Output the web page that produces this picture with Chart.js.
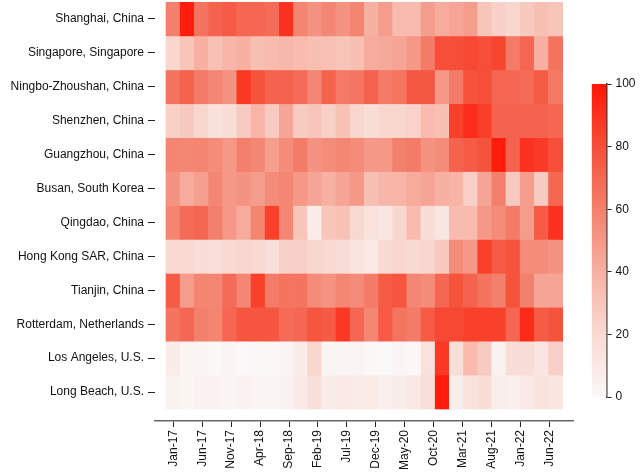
<!DOCTYPE html>
<html>
<head>
<meta charset="utf-8">
<script src="https://cdn.jsdelivr.net/npm/chart.js@4.4.0/dist/chart.umd.min.js"></script>
<style>
  html, body { margin: 0; padding: 0; background: #fff; }
  #wrap { position: relative; width: 643px; height: 472px; }
  #heat { position: absolute; left: 0; top: 0; }
  #bar { position: absolute; left: 580px; top: 0; }
</style>
</head>
<body>
<div id="wrap">
  <canvas id="heat" width="643" height="472"></canvas>
  <canvas id="bar" width="63" height="472"></canvas>
</div>
<script>
// Port names, top to bottom
const ports = [
  'Shanghai, China', 'Singapore, Singapore', 'Ningbo-Zhoushan, China', 'Shenzhen, China',
  'Guangzhou, China', 'Busan, South Korea', 'Qingdao, China', 'Hong Kong SAR, China',
  'Tianjin, China', 'Rotterdam, Netherlands', 'Los Angeles, U.S.', 'Long Beach, U.S.'
];

// x axis labels and their month offset from Jan-17
const tickLabels = ['Jan-17', 'Jun-17', 'Nov-17', 'Apr-18', 'Sep-18', 'Feb-19', 'Jul-19',
  'Dec-19', 'May-20', 'Oct-20', 'Mar-21', 'Aug-21', 'Jan-22', 'Jun-22'];
const tickMonths = [0, 5, 10, 15, 20, 25, 30, 35, 40, 45, 50, 55, 60, 65];

// Index values per port (0-100), one per column
const shanghai   = [60, 97, 65, 72, 75, 70, 70, 68, 90, 58, 52, 57, 52, 58, 40, 48, 35, 35, 48, 42, 45, 48, 30, 25, 22, 28, 33, 30];
const singapore  = [22, 30, 40, 32, 37, 40, 33, 35, 36, 35, 33, 32, 30, 33, 42, 43, 45, 50, 62, 80, 80, 82, 80, 83, 62, 70, 40, 65];
const ningbo     = [65, 72, 62, 57, 52, 88, 78, 72, 72, 68, 57, 72, 62, 64, 72, 62, 65, 76, 76, 50, 62, 78, 80, 70, 70, 68, 75, 63];
const shenzhen   = [25, 28, 22, 15, 18, 27, 38, 27, 45, 27, 30, 25, 32, 22, 18, 22, 22, 24, 35, 33, 85, 92, 86, 72, 72, 72, 72, 70];
const guangzhou  = [58, 57, 58, 55, 50, 60, 57, 47, 55, 62, 52, 55, 57, 55, 50, 50, 60, 62, 52, 55, 72, 75, 78, 98, 72, 90, 87, 80];
const busan      = [52, 42, 47, 57, 50, 52, 48, 55, 57, 50, 45, 40, 45, 50, 33, 37, 38, 42, 45, 40, 38, 25, 45, 60, 28, 48, 27, 70];
const qingdao    = [58, 68, 70, 60, 50, 42, 58, 85, 57, 30, 8, 30, 32, 20, 15, 12, 22, 35, 18, 12, 35, 35, 50, 55, 62, 48, 75, 90];
const hongKong   = [20, 20, 18, 17, 20, 22, 20, 17, 25, 25, 22, 20, 18, 13, 10, 20, 22, 20, 22, 28, 55, 50, 85, 75, 78, 55, 55, 52];
const tianjin    = [75, 48, 58, 57, 68, 57, 85, 62, 65, 65, 55, 52, 57, 55, 62, 75, 77, 57, 55, 70, 78, 72, 65, 60, 78, 60, 45, 45];
const rotterdam  = [65, 70, 60, 58, 70, 77, 77, 77, 68, 70, 77, 75, 88, 70, 57, 75, 65, 62, 75, 82, 82, 85, 85, 85, 70, 93, 75, 78];
const losAngeles = [8, 3, 3, 1, 2, 0, 1, 1, 2, 8, 22, 3, 2, 2, 1, 0, 2, 1, 15, 88, 18, 35, 27, 4, 18, 18, 12, 25];
const longBeach  = [5, 3, 4, 4, 3, 4, 2, 2, 4, 10, 17, 8, 10, 9, 9, 6, 8, 11, 17, 98, 7, 15, 18, 7, 5, 10, 14, 12];

const grid = [shanghai, singapore, ningbo, shenzhen, guangzhou, busan,
  qingdao, hongKong, tianjin, rotterdam, losAngeles, longBeach];

// white -> red colour scale, piecewise stops
const colorStops = [
  [0.0, [250, 248, 248]],
  [0.2, [249, 218, 211]],
  [0.4, [247, 176, 162]],
  [0.6, [243, 128, 108]],
  [0.8, [246, 78, 56]],
  [1.0, [255, 22, 5]]
];
function heatColor(v) {
  const t = Math.max(0, Math.min(1, v / 100));
  let k = 0;
  while (k < colorStops.length - 2 && t > colorStops[k + 1][0]) k++;
  const [t0, c0] = colorStops[k];
  const [t1, c1] = colorStops[k + 1];
  const f = (t - t0) / (t1 - t0);
  const c = c0.map((x, j) => Math.round(x + (c1[j] - x) * f));
  return `rgb(${c[0]},${c[1]},${c[2]})`;
}

Chart.defaults.font.family = '"Liberation Sans", Arial, sans-serif';
Chart.defaults.font.size = 12;
Chart.defaults.color = '#111';

// one dataset per port row, floating bars make the cells
const datasets = grid.map((vals, r) => ({
  data: vals.map((v, i) => ({ x: i, y: [r, r + 1] })),
  backgroundColor: vals.map(heatColor),
  borderWidth: 0,
  grouped: false,
  categoryPercentage: 1,
  barPercentage: 1,
  xAxisID: 'xc',
  yAxisID: 'y'
}));

const noPad = s => { s.paddingTop = 0; s.paddingBottom = 0; s.paddingLeft = 0; s.paddingRight = 0; };

new Chart(document.getElementById('heat'), {
  type: 'bar',
  data: { datasets: datasets },
  options: {
    responsive: false,
    animation: false,
    layout: { padding: { top: 2, right: 70, left: 0, bottom: 0 } },
    plugins: { legend: { display: false }, tooltip: { enabled: false } },
    scales: {
      xc: {
        type: 'linear', axis: 'x', display: false, offset: false,
        min: -1.276, max: 28.227, bounds: 'data'
      },
      x: {
        type: 'linear',
        position: 'bottom',
        offset: false,
        min: -3.163,
        max: 69.09,
        bounds: 'data',
        afterBuildTicks: s => { s.ticks = tickMonths.map(v => ({ value: v })); },
        afterFit: s => { s.height = 51; noPad(s); },
        ticks: {
          autoSkip: false,
          minRotation: 90,
          maxRotation: 90,
          padding: 3,
          callback: (v, i) => tickLabels[i]
        },
        grid: { drawOnChartArea: false, offset: false, tickLength: 6, color: '#222' },
        border: { color: '#666', width: 1.5 }
      },
      y: {
        type: 'linear',
        reverse: true,
        min: 0,
        max: 12.354,
        bounds: 'data',
        afterBuildTicks: s => { s.ticks = ports.map((p, i) => ({ value: i + 0.5 })); },
        afterFit: s => { s.width = 155; noPad(s); },
        ticks: {
          autoSkip: false,
          padding: 4,
          callback: (v, i) => ports[i]
        },
        grid: { drawOnChartArea: false, tickLength: 7, color: '#222' },
        border: { display: false }
      }
    }
  }
});

// colour bar legend
const barTicks = [0, 20, 40, 60, 80, 100];
new Chart(document.getElementById('bar'), {
  type: 'bar',
  data: {
    labels: [''],
    datasets: [{
      data: [[0, 100]],
      categoryPercentage: 1,
      barPercentage: 1,
      borderWidth: 0,
      backgroundColor: context => {
        const { ctx, chartArea } = context.chart;
        if (!chartArea) return null;
        const g = ctx.createLinearGradient(0, chartArea.bottom, 0, chartArea.top);
        for (let k = 0; k <= 20; k++) g.addColorStop(k / 20, heatColor(k * 5));
        return g;
      }
    }]
  },
  options: {
    responsive: false,
    animation: false,
    layout: { padding: { left: 11.7, top: 84, bottom: 75, right: 0 } },
    plugins: { legend: { display: false }, tooltip: { enabled: false } },
    scales: {
      x: { display: false },
      y: {
        position: 'right',
        min: 0,
        max: 100,
        afterBuildTicks: s => { s.ticks = barTicks.map(v => ({ value: v })); },
        afterFit: s => { s.width = 36.5; noPad(s); },
        ticks: { padding: 4 },
        grid: { drawOnChartArea: false, tickLength: 5, color: '#222' },
        border: { color: '#333', width: 1.5 }
      }
    }
  }
});
</script>
</body>
</html>
